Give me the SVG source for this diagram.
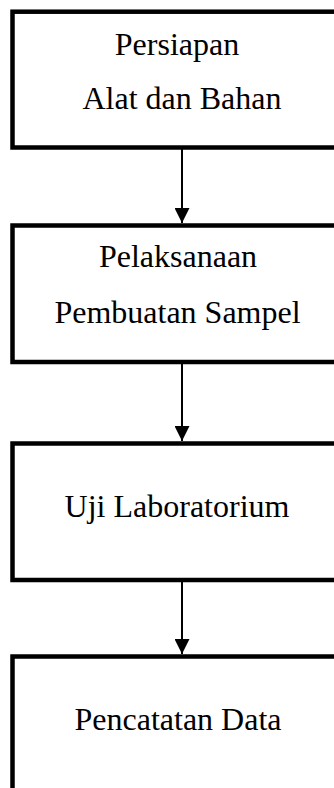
<svg xmlns="http://www.w3.org/2000/svg" width="334" height="788" viewBox="0 0 334 788">
<style>
.box{fill:#fff;stroke:#000;stroke-width:4.5}
.t{font-family:"Liberation Serif","Times New Roman",serif;font-size:32px;fill:#000;text-anchor:middle}
.c{stroke:#000;stroke-width:2;fill:none}
</style>
<defs>
<marker id="ah" markerUnits="userSpaceOnUse" markerWidth="15" markerHeight="15" viewBox="0 0 15 15" refX="15" refY="7.5" orient="auto">
<path d="M0,0 L15,7.5 L0,15 Z" fill="#000"/>
</marker>
</defs>
<rect width="334" height="788" fill="#fff"/>
<g id="connectors">
<line class="c" x1="182" y1="149" x2="182" y2="223" marker-end="url(#ah)"/>
<line class="c" x1="182" y1="364" x2="182" y2="441" marker-end="url(#ah)"/>
<line class="c" x1="182" y1="582" x2="182" y2="654" marker-end="url(#ah)"/>
</g>
<g id="node1">
<rect class="box" x="12.5" y="11.7" width="340" height="135.8"/>
<text class="t" x="177" y="55">Persiapan</text>
<text class="t" x="182" y="109">Alat dan Bahan</text>
</g>
<g id="node2">
<rect class="box" x="12.5" y="225.5" width="340" height="136.5"/>
<text class="t" x="178" y="267">Pelaksanaan</text>
<text class="t" x="177.5" y="323">Pembuatan Sampel</text>
</g>
<g id="node3">
<rect class="box" x="12.5" y="443.5" width="340" height="136.5"/>
<text class="t" x="177" y="517">Uji Laboratorium</text>
</g>
<g id="node4">
<rect class="box" x="12.5" y="656.5" width="340" height="160"/>
<text class="t" x="178" y="730">Pencatatan Data</text>
</g>
</svg>
